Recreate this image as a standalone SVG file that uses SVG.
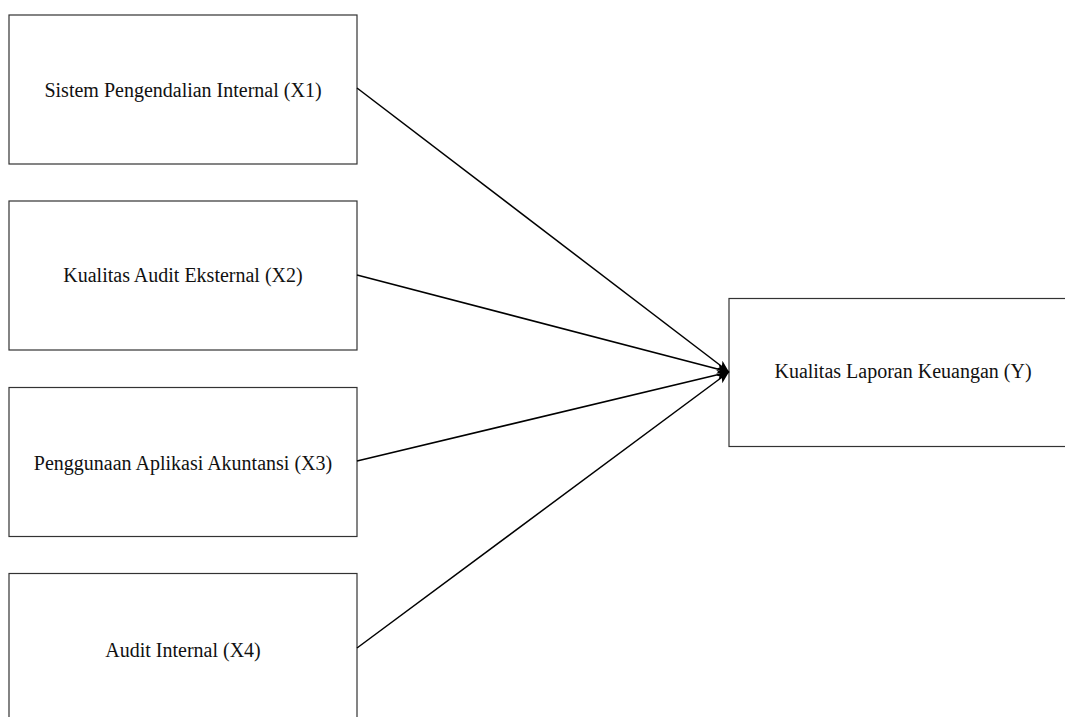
<svg xmlns="http://www.w3.org/2000/svg" width="1065" height="717" viewBox="0 0 1065 717">
<style>
.box{fill:#fff;stroke:#333;stroke-width:1.2}
.lbl{font-family:"Liberation Serif","Times New Roman",serif;font-size:20px;fill:#111;text-anchor:middle}
.edge{stroke:#000;stroke-width:1.5;fill:none;marker-end:url(#arr)}
</style>
<defs>
<marker id="arr" markerWidth="14" markerHeight="10" refX="12" refY="5" orient="auto" markerUnits="userSpaceOnUse">
<path d="M0,0 L12,5 L0,10 L3,5 Z" fill="#000"/>
</marker>
</defs>
<rect width="1065" height="717" fill="#fff"/>
<g id="x1"><rect class="box" x="9" y="15" width="348" height="149"/><text class="lbl" x="183" y="97">Sistem Pengendalian Internal (X1)</text></g>
<g id="x2"><rect class="box" x="9" y="201" width="348" height="149"/><text class="lbl" x="183" y="282">Kualitas Audit Eksternal (X2)</text></g>
<g id="x3"><rect class="box" x="9" y="387.5" width="348" height="149"/><text class="lbl" x="183" y="470">Penggunaan Aplikasi Akuntansi (X3)</text></g>
<g id="x4"><rect class="box" x="9" y="573.5" width="348" height="149"/><text class="lbl" x="183" y="657">Audit Internal (X4)</text></g>
<g id="y"><rect class="box" x="729" y="298.5" width="348" height="148"/><text class="lbl" x="903" y="378">Kualitas Laporan Keuangan (Y)</text></g>
<g id="connectors">
<line class="edge" x1="357" y1="88" x2="729" y2="372"/>
<line class="edge" x1="357" y1="275" x2="729" y2="372"/>
<line class="edge" x1="357" y1="461" x2="729" y2="372"/>
<line class="edge" x1="357" y1="648" x2="729" y2="372"/>
</g>
</svg>
